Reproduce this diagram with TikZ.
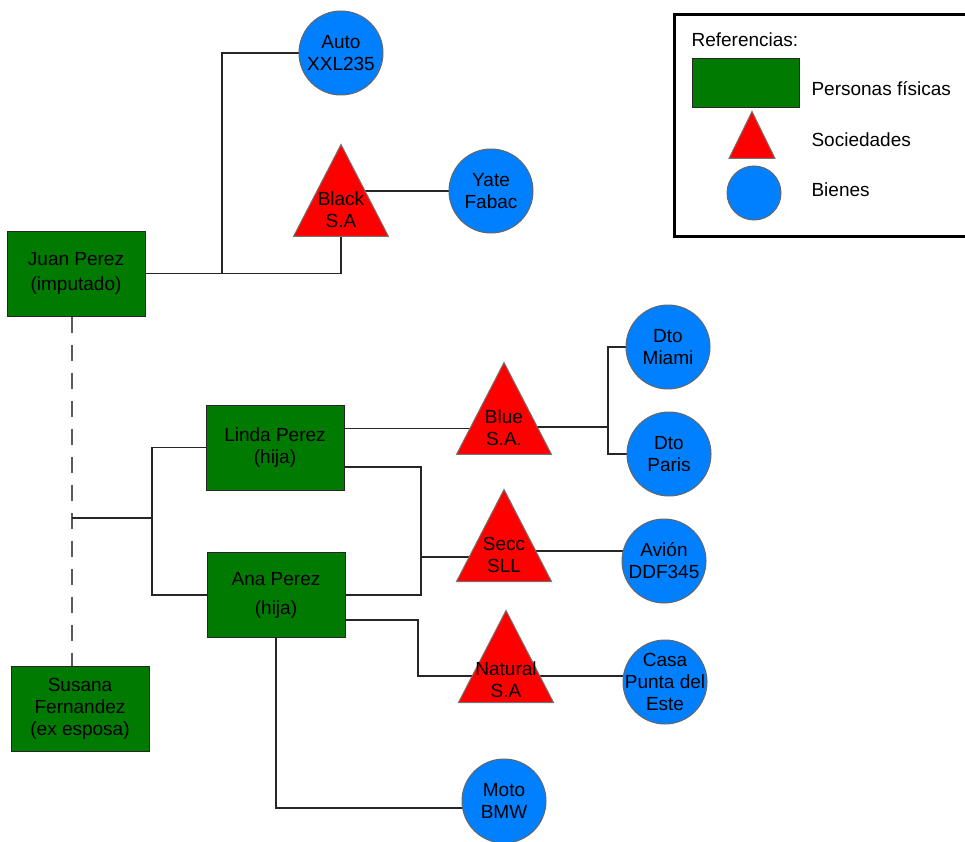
\documentclass[tikz,border=0pt]{standalone}
\usepackage{fontspec}
\setmainfont{Liberation Sans}
\usepackage{xcolor}
\usetikzlibrary{shapes.geometric, backgrounds}
\definecolor{personagreen}{RGB}{0,122,0}
\definecolor{bienblue}{RGB}{0,128,255}

\begin{document}
\begin{tikzpicture}[
    x=1pt, y=-1pt,
    font=\fontsize{19}{22}\selectfont,
    persona/.style={rectangle, draw=black!85, line width=1pt, fill=personagreen, minimum width=138pt, minimum height=85pt, align=center, inner sep=0pt},
    sociedad/.style={isosceles triangle, isosceles triangle stretches, shape border rotate=90, draw=black!55, line width=1pt, fill=red, minimum width=95pt, minimum height=92pt, inner sep=0pt, anchor=south},
    bien/.style={circle, draw=black!60, line width=1pt, fill=bienblue, minimum size=84pt, inner sep=-12pt, align=center},
    rotulo/.style={align=center, yshift=-2pt},
    line/.style={black!85, line width=1.2pt}
]
    \useasboundingbox (0,0) rectangle (965,842);

    % Nodes
    \node [persona] (juan) at (76,273.5) {Juan Perez\\[3pt](imputado)};
    \node [persona] (linda) at (275,447.5) {Linda Perez\\(hija)};
    \node [persona] (ana) at (276,595) {Ana Perez\\[7pt](hija)};
    \node [persona] (susana) at (80,709) {Susana\\Fernandez\\(ex esposa)};

    % triangles placed by their base
    \node [sociedad, label={[rotulo]center:Black\\S.A}] (black) at (341,237) {};
    \node [sociedad, label={[rotulo]center:Blue\\S.A.}] (blue) at (504,455) {};
    \node [sociedad, label={[rotulo]center:Secc\\SLL}] (secc) at (504,582) {};
    \node [sociedad, label={[rotulo, yshift=-4pt]center:Natural\\S.A}] (natural) at (506,703) {};

    \node [bien] (auto) at (341,53) {Auto\\XXL235};
    \node [bien] (yate) at (491,191) {Yate\\Fabac};
    \node [bien] (miami) at (668,347) {Dto\\Miami};
    \node [bien] (paris) at (669,454) {Dto\\Paris};
    \node [bien] (avion) at (664,561) {Avión\\DDF345};
    \node [bien] (casa) at (665,682) {Casa\\Punta del\\Este};
    \node [bien] (moto) at (504,801) {Moto\\BMW};

    % Legend
    \draw [line width=3pt] (674,15) rectangle (990,236);
    \node [anchor=west] (referencias) at (688,40) {Referencias:};
    \node [persona, minimum width=107pt, minimum height=49pt] (legpersona) at (745.5,83.5) {};
    \node [anchor=west] (legpersonatxt) at (808,89) {Personas físicas};
    \node [sociedad, minimum width=46pt, minimum height=47pt] (legsociedad) at (752,159) {};
    \node [anchor=west] (legsociedadtxt) at (808,140) {Sociedades};
    \node [bien, minimum size=54pt] (legbien) at (754,193) {};
    \node [anchor=west] (legbientxt) at (808,190) {Bienes};

    % Lines
    \begin{scope}[on background layer]
    \coordinate (jn) at (222,273.5);
    \draw [line] (juan.east) -| (black.south);
    \draw [line] (jn) |- (auto);
    \draw [line] (yate) -- (yate -| black);

    \draw [line] ([yshift=19pt]linda.east) coordinate (l1) -- (l1 -| blue);
    \coordinate (bj) at (608,427);
    \draw [line] (bj -| blue) -- (bj);
    \draw [line] (miami) -| (bj) |- (paris);

    \coordinate (sj) at (421,557);
    \draw [line] ([yshift=-19.5pt]linda.east) -| (sj) |- (ana.east);
    \draw [line] (sj) -- (sj -| secc);
    \draw [line] ([yshift=10pt]avion.center) coordinate (a1) -- (a1 -| secc);

    \coordinate (nj) at (418,676);
    \draw [line] ([yshift=-25pt]ana.east) -| (nj) -- (nj -| casa);
    \draw [line] (ana.south) |- ([yshift=-7pt]moto.center);

    \coordinate (dj) at (72,518);
    \coordinate (hj) at (152,518);
    \draw [line, black!65, dash pattern=on 16pt off 12pt] (juan.south -| dj) -- (susana.north -| dj);
    \draw [line] (dj) -- (hj);
    \draw [line] (linda.west) -| (hj) |- (ana.west);
    \end{scope}

\end{tikzpicture}
\end{document}
